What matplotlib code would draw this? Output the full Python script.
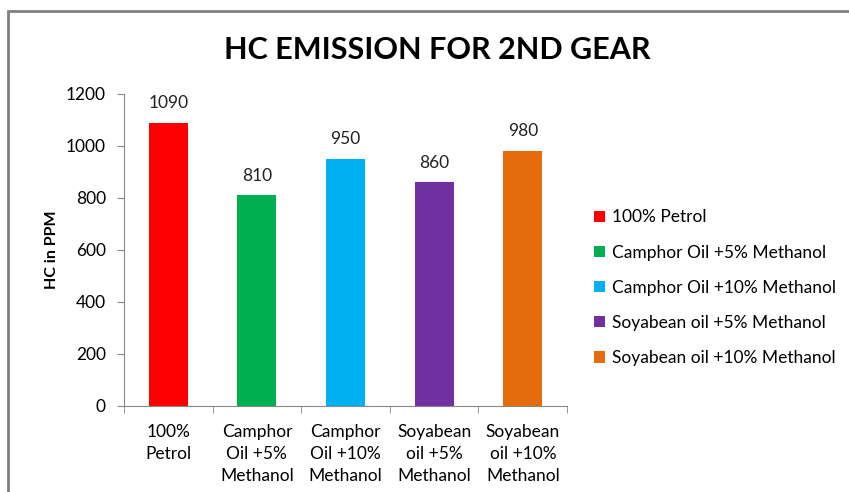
import numpy as np
import matplotlib.pyplot as plt
from matplotlib.patches import Rectangle

# Datos
categorias = ["100%\nPetrol", "Camphor\nOil +5%\nMethanol", "Camphor\nOil +10%\nMethanol",
              "Soyabean\noil +5%\nMethanol", "Soyabean\noil +10%\nMethanol"]
leyenda = ["100% Petrol", "Camphor Oil +5% Methanol", "Camphor Oil +10% Methanol",
           "Soyabean oil +5% Methanol", "Soyabean oil +10% Methanol"]
valores = [1090, 810, 950, 860, 980]
colores = ["#FF0000", "#00B050", "#00B0F0", "#7030A0", "#E46C0A"]

plt.rcParams['font.family'] = ['Lato', 'DejaVu Sans']

fig = plt.figure(figsize=(8.49, 4.92), dpi=100)
ax = fig.add_axes([0.146, 0.175, 0.522, 0.634])

x = np.arange(len(valores))
barras = ax.bar(x, valores, width=0.44, color=colores, label=leyenda)
for xi, v in zip(x, valores):
    ax.text(xi, v + 45, str(v), ha='center', va='bottom', fontsize=12.5, color='#222222')

ax.set_xlim(-0.5, len(valores) - 0.5)
ax.set_ylim(0, 1200)
ax.set_yticks(range(0, 1201, 200))
ax.set_xticks(x)
ax.set_xticklabels(categorias, fontsize=12.5, va='top', linespacing=1.45)
ax.tick_params(axis='x', length=0, pad=13)
ax.set_xticks(np.arange(-0.5, len(valores), 1), minor=True)
ax.tick_params(axis='x', which='minor', length=5, color='#888888')
ax.tick_params(axis='y', labelsize=12.5, length=5, color='#888888', pad=8)
for s in ['top', 'right']:
    ax.spines[s].set_visible(False)
for s in ['left', 'bottom']:
    ax.spines[s].set_color('#888888')
ax.set_ylabel("HC in PPM", fontsize=11.5, fontweight='bold', labelpad=5)

fig.text(0.515, 0.898, "HC EMISSION FOR 2ND GEAR", ha='center', va='center',
         fontsize=22, fontweight='bold')

fig.legend(handles=barras, labels=leyenda, loc='upper left', bbox_to_anchor=(0.681, 0.606),
           frameon=False, fontsize=12.5, handlelength=0.65, handleheight=0.65,
           handletextpad=0.4, labelspacing=1.1)

fig.add_artist(Rectangle((8 / 849, -0.1), 1.2, 0.1 + 1 - 11 / 492, transform=fig.transFigure,
                         fill=False, edgecolor='#7F7F7F', linewidth=2))

fig.savefig("out.png", dpi=100)
